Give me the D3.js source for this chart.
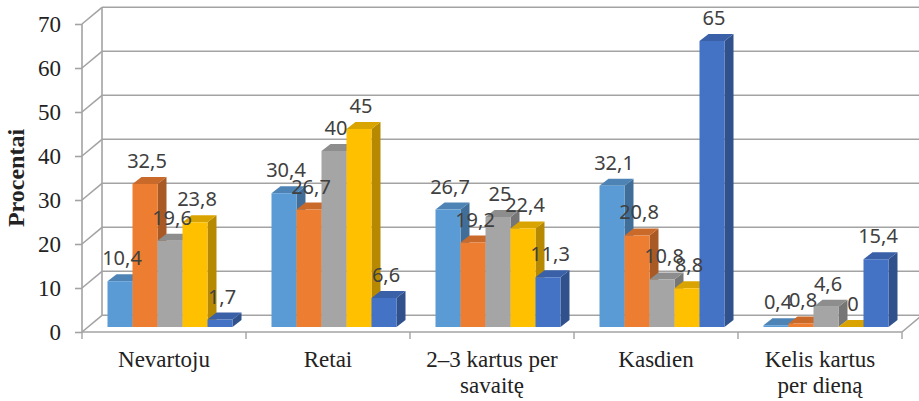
<!DOCTYPE html>
<html>
<head>
<meta charset="utf-8">
<script src="https://cdn.jsdelivr.net/npm/d3@7"></script>
<style>
  body { margin: 0; background: #fff; }
  svg { display: block; }
</style>
</head>
<body>
<div id="vis"></div>
<script>
// data
var categories = [["Nevartoju"], ["Retai"], ["2–3 kartus per", "savaitę"], ["Kasdien"], ["Kelis kartus", "per dieną"]];
var seriesNames = ["S1", "S2", "S3", "S4", "S5"];
var seriesColors = ["#5B9BD5", "#ED7D31", "#A5A5A5", "#FFC000", "#4472C4"];
var valS1 = [10.4, 30.4, 26.7, 32.1, 0.4];
var valS2 = [32.5, 26.7, 19.2, 20.8, 0.8];
var valS3 = [19.6, 40, 25, 10.8, 4.6];
var valS4 = [23.8, 45, 22.4, 8.8, 0];
var valS5 = [1.7, 6.6, 11.3, 65, 15.4];
var yTicks = [0, 10, 20, 30, 40, 50, 60, 70];
var yTitle = "Procentai";

function barChart3d(){
	var allValues = [valS1, valS2, valS3, valS4, valS5];

	var width = 919, height = 401;
	var left = 82, right = 902, bottomY = 332, topY = 24;
	// 3D offsets
	var wallDx = 20, wallDy = -16.7;   // back wall
	var barDx = 6, barDy = -5;         // plane where bars stand
	var depDx = 9, depDy = -7;         // bar depth

	var svg = d3.select("#vis").append("svg")
		.attr("width", width)
		.attr("height", height);

	var catKeys = categories.map(function(c){ return c.join(" "); });

	var x = d3.scaleBand()
		.domain(catKeys)
		.range([left, right]);

	var x1 = d3.scaleBand()
		.domain(seriesNames)
		.range([0, x.bandwidth()])
		.paddingOuter(0.78);

	var y = d3.scaleLinear()
		.domain([0, 70])
		.range([bottomY, topY]);

	var gridColor = "#A3A3A3";

	// walls: gridlines on back wall + diagonals on left wall
	var grid = svg.append("g");
	yTicks.forEach(function(t){
		var yy = y(t);
		grid.append("line")
			.attr("x1", left + wallDx).attr("x2", right + wallDx + 2)
			.attr("y1", yy + wallDy).attr("y2", yy + wallDy)
			.attr("stroke", gridColor).attr("stroke-width", 1.6);
		grid.append("line")
			.attr("x1", left).attr("x2", left + wallDx)
			.attr("y1", yy).attr("y2", yy + wallDy)
			.attr("stroke", gridColor).attr("stroke-width", 1.6);
	});
	// back wall left edge
	grid.append("line")
		.attr("x1", left + wallDx).attr("x2", left + wallDx)
		.attr("y1", y(70) + wallDy).attr("y2", y(0) + wallDy)
		.attr("stroke", gridColor).attr("stroke-width", 1.6);
	// floor front edge and right edge
	grid.append("line")
		.attr("x1", left).attr("x2", right)
		.attr("y1", bottomY).attr("y2", bottomY)
		.attr("stroke", gridColor).attr("stroke-width", 1.6);
	grid.append("line")
		.attr("x1", right).attr("x2", right + wallDx)
		.attr("y1", bottomY).attr("y2", bottomY + wallDy)
		.attr("stroke", gridColor).attr("stroke-width", 1.6);

	// y axis line + ticks
	grid.append("line")
		.attr("x1", left).attr("x2", left)
		.attr("y1", y(70)).attr("y2", y(0))
		.attr("stroke", gridColor).attr("stroke-width", 1.6);
	var yAxis = d3.axisLeft(y).tickValues(yTicks).tickSize(7).tickPadding(14);
	var gy = svg.append("g")
		.attr("transform", "translate(" + left + ",0)")
		.call(yAxis);
	gy.select(".domain").remove();
	gy.selectAll(".tick line").attr("stroke", gridColor).attr("stroke-width", 1.6);
	gy.selectAll(".tick text")
		.attr("font-family", "'Liberation Serif', 'Times New Roman', serif")
		.attr("font-size", 23)
		.attr("fill", "#222");

	// category ticks under the floor
	var catEdges = catKeys.map(function(k){ return x(k); }).concat([right]);
	svg.append("g").selectAll("line")
		.data(catEdges)
		.join("line")
		.attr("x1", function(d){ return d; }).attr("x2", function(d){ return d; })
		.attr("y1", bottomY).attr("y2", bottomY + 7)
		.attr("stroke", gridColor).attr("stroke-width", 1.4);

	// bars
	var bars = [];
	catKeys.forEach(function(k, ci){
		seriesNames.forEach(function(s, si){
			bars.push({ cat: k, series: s, value: allValues[si][ci], color: seriesColors[si] });
		});
	});

	var barG = svg.append("g");
	bars.forEach(function(d){
		var x0 = x(d.cat) + x1(d.series) + barDx;
		var w = x1.bandwidth();
		var yb = y(0) + barDy;
		var yt = y(d.value) + barDy;
		var c = d3.color(d.color);
		// side
		barG.append("path")
			.attr("d", "M" + (x0 + w) + "," + yb + "L" + (x0 + w + depDx) + "," + (yb + depDy) +
				"L" + (x0 + w + depDx) + "," + (yt + depDy) + "L" + (x0 + w) + "," + yt + "Z")
			.attr("fill", c.darker(0.95));
		// top
		barG.append("path")
			.attr("d", "M" + x0 + "," + yt + "L" + (x0 + w) + "," + yt +
				"L" + (x0 + w + depDx) + "," + (yt + depDy) + "L" + (x0 + depDx) + "," + (yt + depDy) + "Z")
			.attr("fill", c.darker(0.45));
		// front
		barG.append("rect")
			.attr("x", x0).attr("y", yt)
			.attr("width", w).attr("height", yb - yt)
			.attr("fill", d.color);
	});

	// value labels
	svg.append("g").selectAll("text")
		.data(bars)
		.join("text")
		.attr("x", function(d){ return x(d.cat) + x1(d.series) + barDx + x1.bandwidth() / 2 + 2; })
		.attr("y", function(d){ return y(d.value) + barDy - 16; })
		.attr("text-anchor", "middle")
		.attr("font-family", "'Noto Sans', 'Open Sans', sans-serif")
		.attr("font-size", 20)
		.attr("fill", "#404040")
		.text(function(d){ return String(d.value).replace(".", ","); });

	// category labels
	var catG = svg.append("g")
		.attr("font-family", "'Liberation Serif', 'Times New Roman', serif")
		.attr("font-size", 23)
		.attr("fill", "#222")
		.attr("text-anchor", "middle");
	categories.forEach(function(lines, i){
		var t = catG.append("text")
			.attr("x", x(catKeys[i]) + x.bandwidth() / 2)
			.attr("y", 367);
		lines.forEach(function(line, li){
			t.append("tspan")
				.attr("x", x(catKeys[i]) + x.bandwidth() / 2)
				.attr("dy", li === 0 ? 0 : 26)
				.text(line);
		});
	});

	// y title
	svg.append("text")
		.attr("transform", "translate(24,178) rotate(-90)")
		.attr("text-anchor", "middle")
		.attr("font-family", "'Liberation Serif', 'Times New Roman', serif")
		.attr("font-weight", "bold")
		.attr("font-size", 24)
		.attr("fill", "#222")
		.text(yTitle);
}

barChart3d();
</script>
</body>
</html>
